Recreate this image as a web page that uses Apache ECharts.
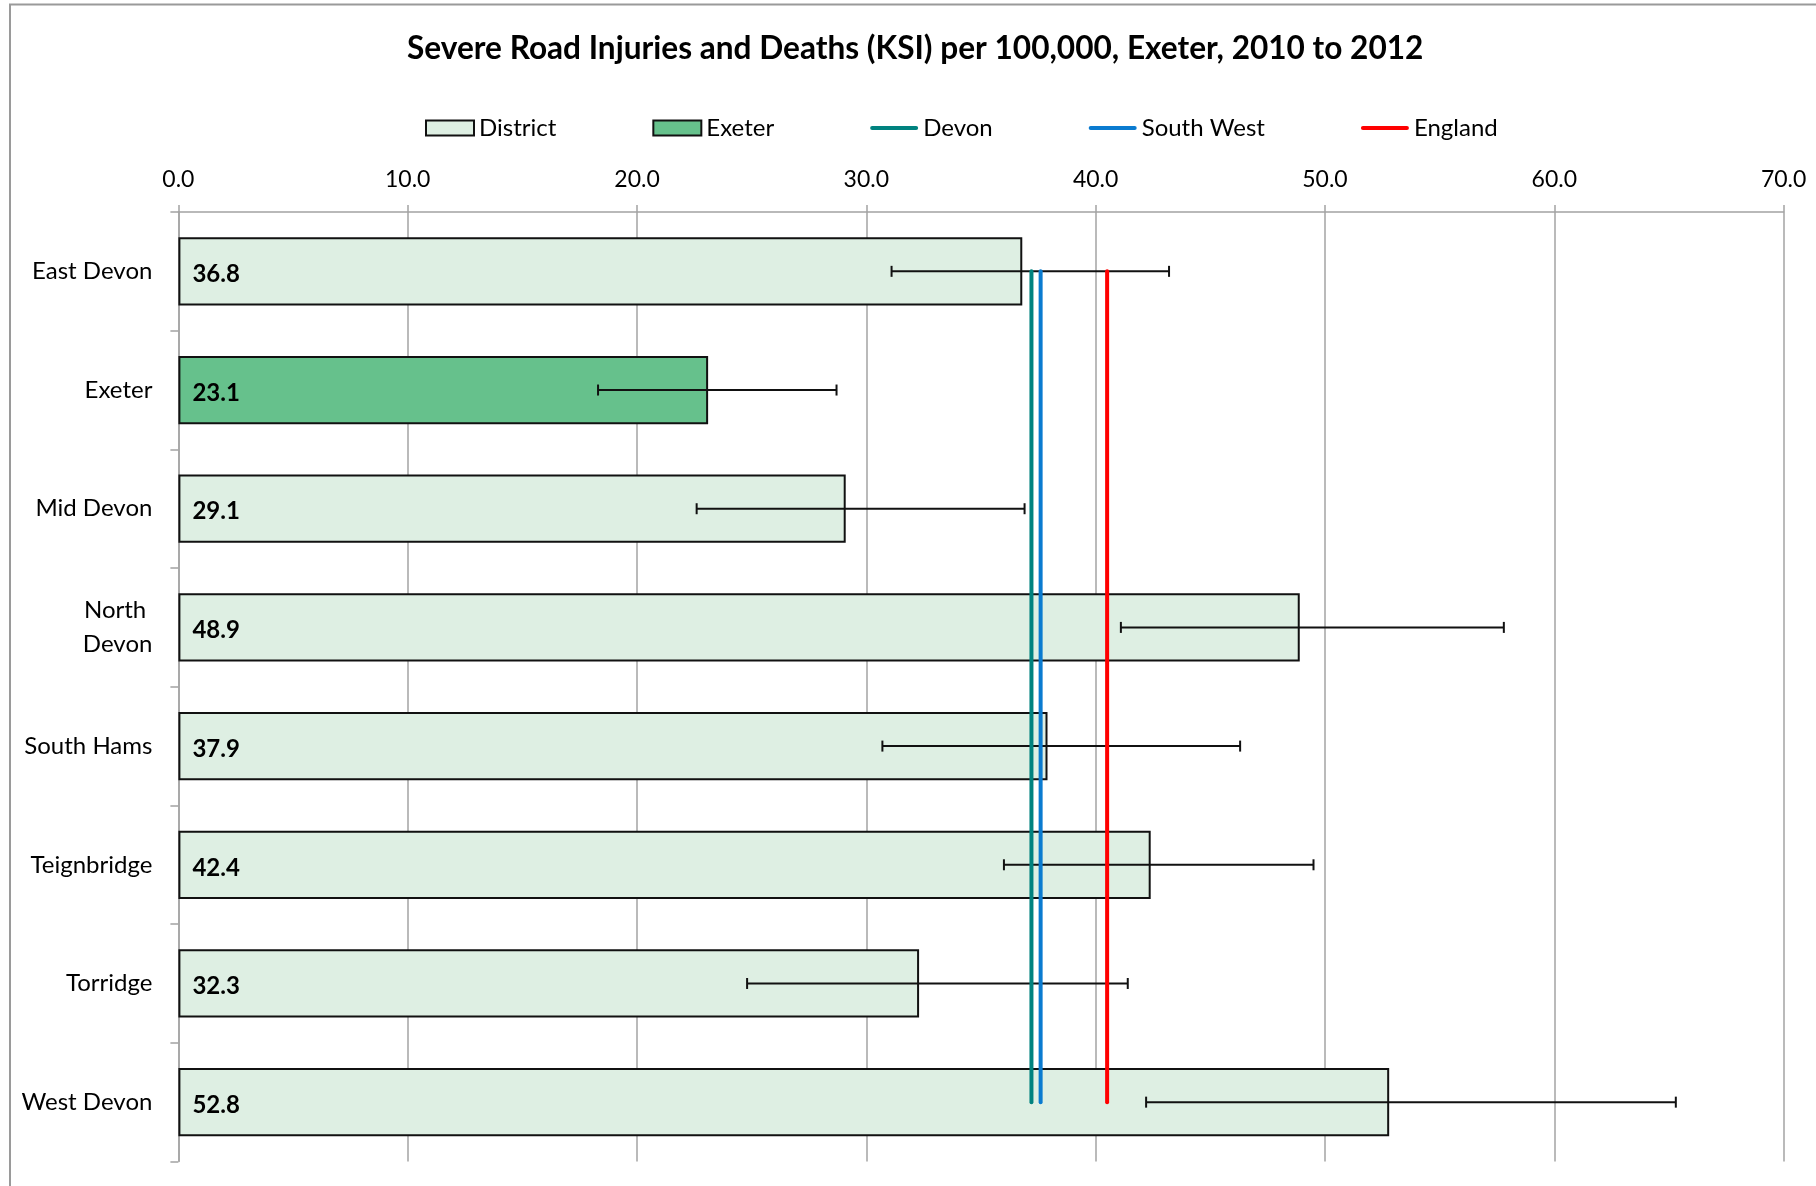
<!DOCTYPE html>
<html>
<head>
<meta charset="utf-8">
<title>Severe Road Injuries and Deaths (KSI) per 100,000, Exeter, 2010 to 2012</title>
<script src="https://cdn.jsdelivr.net/npm/echarts@6/dist/echarts.min.js"></script>
<style>
  html, body { margin: 0; padding: 0; background: #ffffff; }
  #chart { width: 1816px; height: 1186px; }
</style>
</head>
<body>
<div id="chart"></div>
<script>
// Districts, top to bottom
const districts = ['East Devon', 'Exeter', 'Mid Devon', 'North Devon', 'South Hams', 'Teignbridge', 'Torridge', 'West Devon'];
// KSI rate per 100,000 for each district
const ksiRate = [36.8, 23.1, 29.1, 48.9, 37.9, 42.4, 32.3, 52.8];
// 95% confidence limits
const lowerCI = [31.1, 18.3, 22.6, 41.1, 30.7, 36.0, 24.8, 42.2];
const upperCI = [43.2, 28.7, 36.9, 57.8, 46.3, 49.5, 41.4, 65.3];
// Comparator averages
const devonRate = 37.2;
const southWestRate = 37.6;
const englandRate = 40.5;
// Value axis ticks
const axisMin = 0, axisMax = 70, axisStep = 10;

const highlighted = 'Exeter';

const districtValues = districts.map((d, i) => d === highlighted ? '-' : ksiRate[i]);
const exeterValues = districts.map((d, i) => d === highlighted ? ksiRate[i] : '-');
const ciData = districts.map((d, i) => [i, lowerCI[i], upperCI[i]]);
const verticalRef = v => [[v, districts[0]], [v, districts[districts.length - 1]]];

const FONT = 'Lato, "Noto Sans", sans-serif';
const GRID_GREY = '#a3a3a3';
// thin horizontal stroke used as the legend key for the reference lines
const LINE_KEY = 'path://M2,0 L46,0 A2,2 0 0 1 46,4 L2,4 A2,2 0 0 1 2,0 Z';

const barLabel = {
  show: true,
  position: 'insideLeft',
  distance: 14,
  offset: [0, 3],
  color: '#000',
  fontFamily: FONT,
  fontWeight: 'bold',
  fontSize: 24,
  formatter: p => Number(p.value).toFixed(1)
};

const chart = echarts.init(document.getElementById('chart'), null, { renderer: 'canvas' });

chart.setOption({
  animation: false,
  backgroundColor: '#ffffff',
  textStyle: { fontFamily: FONT },
  title: {
    text: 'Severe Road Injuries and Deaths (KSI) per 100,000, Exeter, 2010 to 2012',
    left: 402,
    top: 28,
    textStyle: { fontFamily: FONT, fontWeight: 'bold', fontSize: 31.6, color: '#000' }
  },
  legend: {
    left: 420,
    top: 111,
    itemWidth: 48,
    itemHeight: 15,
    itemGap: 96,
    textStyle: { fontFamily: FONT, fontSize: 24, color: '#000' },
    data: [
      { name: 'District', icon: 'rect' },
      { name: 'Exeter', icon: 'rect' },
      { name: 'Devon', icon: LINE_KEY, itemStyle: { borderWidth: 0 } },
      { name: 'South West', icon: LINE_KEY, itemStyle: { borderWidth: 0 } },
      { name: 'England', icon: LINE_KEY, itemStyle: { borderWidth: 0 } }
    ]
  },
  graphic: [{
    type: 'rect',
    silent: true,
    z: -10,
    shape: { x: 10, y: 4.5, width: 1900, height: 1300 },
    style: { fill: 'none', stroke: '#9a9a9a', lineWidth: 2 }
  }],
  grid: { left: 178.4, right: 32.4, top: 212, bottom: 24.5, containLabel: false },
  xAxis: {
    type: 'value',
    position: 'top',
    min: axisMin,
    max: axisMax,
    interval: axisStep,
    axisLine: { show: true, lineStyle: { color: GRID_GREY, width: 1.5 } },
    axisTick: { show: true, length: 7, lineStyle: { color: GRID_GREY, width: 1.5 } },
    splitLine: { show: true, lineStyle: { color: GRID_GREY, width: 1.5 } },
    axisLabel: {
      margin: 21,
      fontFamily: FONT,
      fontSize: 23,
      color: '#000',
      formatter: v => v.toFixed(1)
    }
  },
  yAxis: {
    type: 'category',
    inverse: true,
    data: districts,
    axisLine: { show: true, lineStyle: { color: GRID_GREY, width: 1.5 } },
    axisTick: { show: true, length: 8, lineStyle: { color: GRID_GREY, width: 1.5 } },
    splitLine: { show: false },
    axisLabel: {
      margin: 26,
      fontFamily: FONT,
      fontSize: 24,
      color: '#000',
      lineHeight: 34,
      align: 'right',
      padding: [6, 0, 0, 0],
      formatter: v => v === 'North Devon' ? 'North \nDevon' : v
    }
  },
  series: [
    {
      name: 'District',
      type: 'bar',
      stack: 'ksi',
      barCategoryGap: '42.5%',
      data: districtValues,
      itemStyle: { color: '#deefe3', borderColor: '#111', borderWidth: 2 },
      label: barLabel,
      z: 2
    },
    {
      name: 'Exeter',
      type: 'bar',
      stack: 'ksi',
      data: exeterValues,
      itemStyle: { color: '#66c18c', borderColor: '#111', borderWidth: 2 },
      label: barLabel,
      z: 2
    },
    {
      name: '95% CI',
      type: 'custom',
      data: ciData,
      encode: { x: [1, 2], y: 0 },
      z: 3,
      renderItem: (params, api) => {
        const cat = api.value(0);
        const lo = api.coord([api.value(1), cat]);
        const hi = api.coord([api.value(2), cat]);
        const cap = 5.5;
        const st = { stroke: '#111', lineWidth: 2 };
        return {
          type: 'group',
          children: [
            { type: 'line', shape: { x1: lo[0], y1: lo[1], x2: hi[0], y2: hi[1] }, style: st },
            { type: 'line', shape: { x1: lo[0], y1: lo[1] - cap, x2: lo[0], y2: lo[1] + cap }, style: st },
            { type: 'line', shape: { x1: hi[0], y1: hi[1] - cap, x2: hi[0], y2: hi[1] + cap }, style: st }
          ]
        };
      }
    },
    {
      name: 'Devon',
      type: 'line',
      data: verticalRef(devonRate),
      symbol: 'none',
      lineStyle: { color: '#00827f', width: 4, cap: 'round' },
      itemStyle: { color: '#00827f' },
      z: 4
    },
    {
      name: 'South West',
      type: 'line',
      data: verticalRef(southWestRate),
      symbol: 'none',
      lineStyle: { color: '#0a7bd0', width: 4, cap: 'round' },
      itemStyle: { color: '#0a7bd0' },
      z: 4
    },
    {
      name: 'England',
      type: 'line',
      data: verticalRef(englandRate),
      symbol: 'none',
      lineStyle: { color: '#ff0000', width: 4, cap: 'round' },
      itemStyle: { color: '#ff0000' },
      z: 4
    }
  ]
});
</script>
</body>
</html>
